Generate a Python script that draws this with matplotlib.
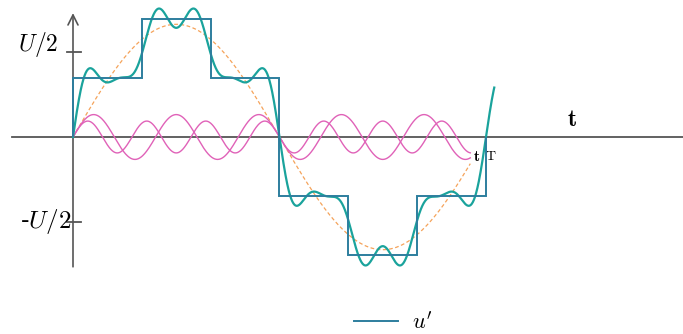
import numpy as np
import matplotlib
matplotlib.use("Agg")
import matplotlib.pyplot as plt

plt.rcParams['mathtext.fontset'] = 'cm'

# time in units of the period T, voltage in units of one step
step_edges = [0, 1 / 6, 2 / 6, 3 / 6, 4 / 6, 5 / 6, 1]
step_levels = [1, 2, 1, -1, -2, -1]

# odd harmonics of the staircase (3rd and 9th vanish)
harm_orders = [1, 5, 7, 11]
harm_amps = [1.91, 0.38, 0.27, 0.17]
shown_harm = [5, 7]

half_u = 1.44   # U/2 tick level

axis_col = '#555555'
step_col = '#2d7e9e'
sum_col = '#1aa39c'
fund_col = '#f5a35a'
harm_col = '#e062b8'


def wave(t, n):
    a = harm_amps[harm_orders.index(n)]
    return a * np.sin(2 * np.pi * n * t)


fig = plt.figure(figsize=(6.83, 3.34), dpi=100)
ax = fig.add_axes([0, 0, 1, 1])
ax.set_xlim(-73 / 413, 610 / 413)
ax.set_ylim(-197 / 59, 137 / 59)
ax.axis('off')

# axes with arrow
ax.plot([-0.148, 1.48], [0, 0], color=axis_col, lw=1.3, zorder=1)
ax.annotate('', xy=(0, 2.1), xytext=(0, -2.2),
            arrowprops=dict(arrowstyle='->', lw=1.2, color=axis_col,
                            mutation_scale=18, shrinkA=0, shrinkB=0))
for lv in (half_u, -half_u):
    ax.plot([-0.015, 0.02], [lv, lv], color=axis_col, lw=1.3)

t = np.linspace(0, 0.962, 800)
ax.plot(t, wave(t, 1), color=fund_col, lw=0.9, ls=(0, (3, 2)), zorder=2)
for n in shown_harm:
    ax.plot(t, wave(t, n), color=harm_col, lw=1.0, zorder=2)

ts = np.linspace(0, 1.02, 1200)
total = sum(wave(ts, n) for n in harm_orders)
ax.plot(ts, total, color=sum_col, lw=1.6, zorder=3)

ax.stairs(step_levels, step_edges, baseline=0, color=step_col, lw=1.4,
          zorder=4, label=r"$u'$")

ax.text(-0.035, 1.56, r'$U/2$', ha='right', va='center', fontsize=17)
ax.text(-0.004, -1.44, r'-$U/2$', ha='right', va='center', fontsize=18,
        family='DejaVu Serif')
ax.text(1.209, 0.3, r'$\mathbf{t}$', ha='center', va='center', fontsize=17)
ax.text(0.978, -0.33, r'$\mathbf{t}$', ha='center', va='center', fontsize=11)
ax.text(1.012, -0.33, r'$\mathrm{T}$', ha='center', va='center', fontsize=10)

ax.legend(loc='center', bbox_to_anchor=(0.575, 0.035), frameon=False,
          fontsize=16, handlelength=2.0, handletextpad=0.6,
          bbox_transform=fig.transFigure)

fig.savefig('out.png', dpi=100)
